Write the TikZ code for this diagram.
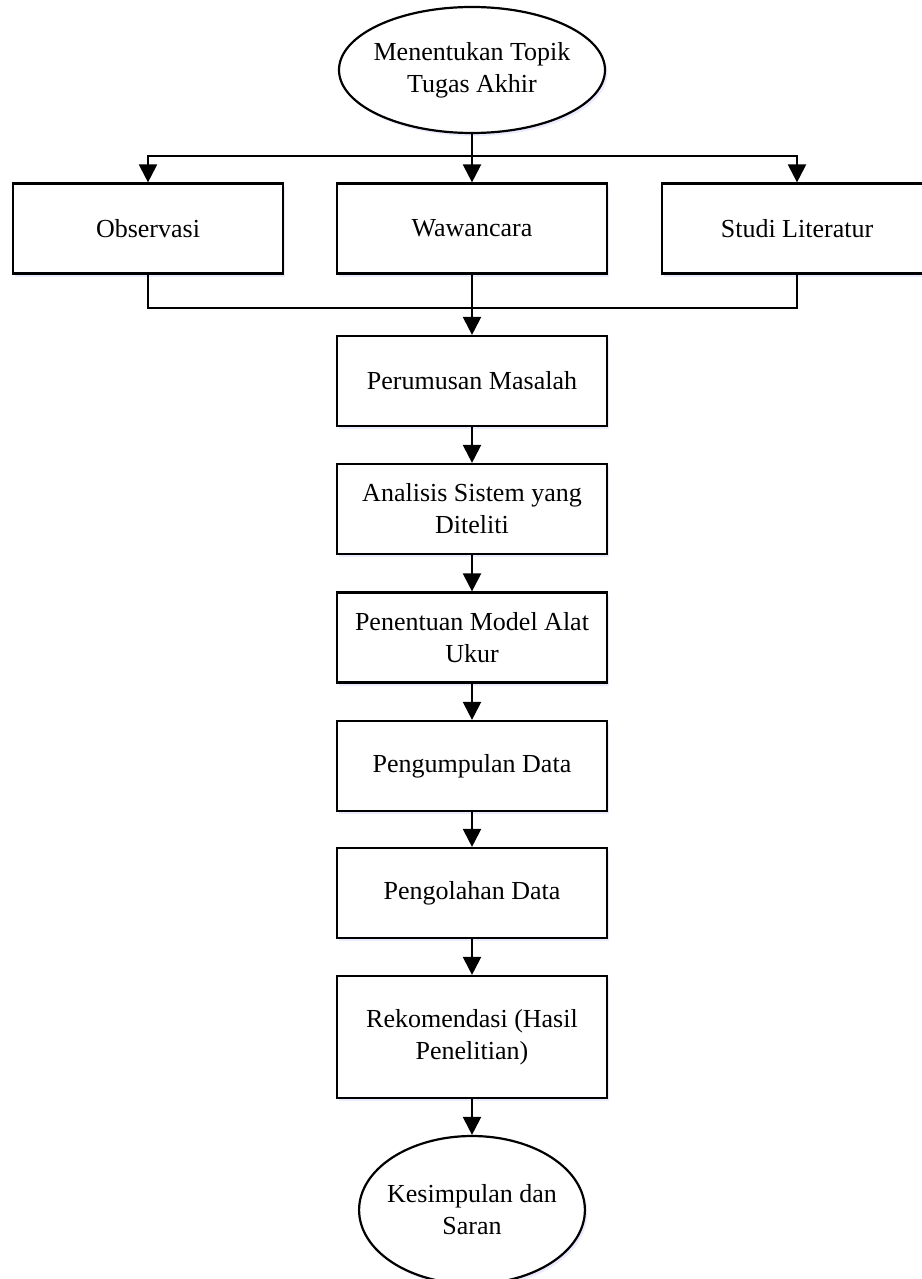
\documentclass[tikz,border=0pt]{standalone}
\usepackage{fontspec}
\setmainfont{Liberation Serif}
\usetikzlibrary{arrows.meta,shapes.geometric,shadows}
\begin{document}
\begin{tikzpicture}[x=0.5pt,y=-0.5pt,line width=1.1pt,
	box/.style={rectangle, draw, fill=white, minimum width=135pt, minimum height=45pt, inner sep=0pt, align=center, font=\fontsize{13}{16}\selectfont, drop shadow={shadow xshift=1.2pt, shadow yshift=-1.5pt, fill=blue!8, opacity=1}},
	oval/.style={ellipse, draw, fill=white, inner xsep=-2.5pt, inner ysep=0pt, align=center, font=\fontsize{13}{16}\selectfont, drop shadow={shadow xshift=1.2pt, shadow yshift=-1.5pt, fill=blue!8, opacity=1}},
	arr/.style={-{Triangle[width=9pt,length=9pt]}}]
	\useasboundingbox (0,0) rectangle (921,1279);
	\node (topik) at (472,70) [oval, minimum width=133pt, minimum height=63pt] {Menentukan Topik\\Tugas Akhir};
	\node (observasi) at (148,228.5) [box] {Observasi};
	\node (wawancara) at (472,228.5) [box] {Wawancara};
	\node (studi) at (797,228.5) [box] {Studi Literatur};
	\coordinate (split) at (472,156);
	\coordinate (join) at (472,308);
	\node (perumusan) at (472,381) [box] {Perumusan Masalah};
	\node (analisis) at (472,509) [box] {Analisis Sistem yang\\Diteliti};
	\node (penentuan) at (472,637.5) [box] {Penentuan Model Alat\\Ukur};
	\node (pengumpulan) at (472,766) [box] {Pengumpulan Data};
	\node (pengolahan) at (472,893) [box] {Pengolahan Data};
	\node (rekomendasi) at (472,1037) [box, minimum height=61pt] {Rekomendasi (Hasil\\Penelitian)};
	\node (kesimpulan) at (472,1210) [oval, minimum width=112pt, minimum height=74pt] {Kesimpulan dan\\Saran};
	\draw[arr] (topik) -- (wawancara);
	\draw[arr] (split) -| (observasi);
	\draw[arr] (split) -| (studi);
	\draw (observasi) |- (join);
	\draw (studi) |- (join);
	\draw[arr] (wawancara) -- (perumusan);
	\draw[arr] (perumusan) -- (analisis);
	\draw[arr] (analisis) -- (penentuan);
	\draw[arr] (penentuan) -- (pengumpulan);
	\draw[arr] (pengumpulan) -- (pengolahan);
	\draw[arr] (pengolahan) -- (rekomendasi);
	\draw[arr] (rekomendasi) -- (kesimpulan);
\end{tikzpicture}
\end{document}
